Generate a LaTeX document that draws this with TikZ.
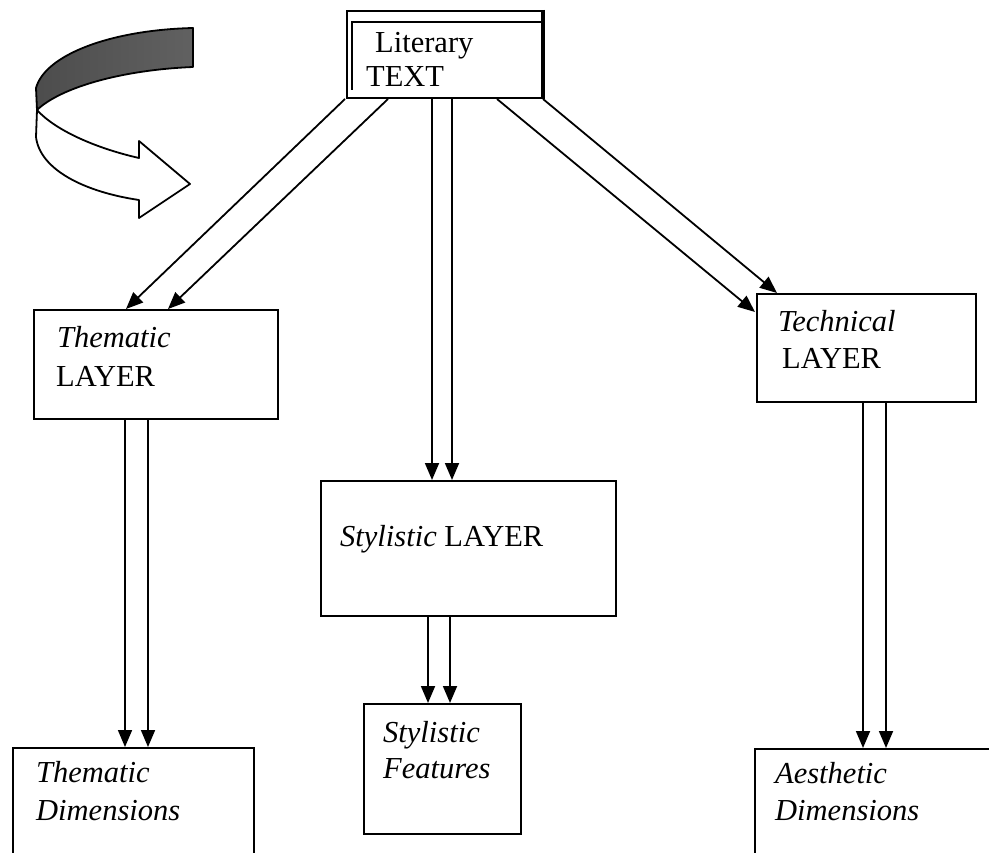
\documentclass[tikz,border=0pt]{standalone}
\usepackage{fontspec}
\setmainfont{Liberation Serif}
\usetikzlibrary{arrows.meta,calc}
\begin{document}
\begin{tikzpicture}[x=1pt,y=-1pt,
  box/.style={draw, line width=2pt, inner sep=0pt, anchor=north west},
  txt/.style={inner sep=0pt, anchor=base west, font=\fontsize{30.5}{36}\selectfont},
  arr/.style={line width=1.8pt, -{Triangle[length=17pt,width=14pt]}},
  rib/.style={line width=1.8pt, line join=round}
  ]
\useasboundingbox (0,0) rectangle (989,853);
\clip (0,0) rectangle (989,853);

% boxes
\node[box, minimum width=195pt, minimum height=87pt] (lit) at (346,10) {};
\node[box, minimum width=244pt, minimum height=109pt] (thl) at (33,309) {};
\node[box, minimum width=219pt, minimum height=108pt] (tel) at (756,293) {};
\node[box, minimum width=295pt, minimum height=135pt] (stl) at (320,480) {};
\node[box, minimum width=157pt, minimum height=130pt] (stf) at (363,703) {};
\node[box, minimum width=241pt, minimum height=200pt] (thd) at (12,747) {};
\node[box, minimum width=300pt, minimum height=200pt] (aed) at (754,748) {};

% Literary box inner frame and heavy right edge
\draw[line width=1.6pt] ($(lit.south west)+(6,-9)$) |- ($(lit.north east)+(0,12)$);
\draw[line width=3.2pt] (lit.north east) -- (lit.south east);

% texts
\node[txt] (t1) at (375,53) {Literary};
\node[txt] (t2) at (366,87) {TEXT};
\node[txt] (t3) at (57,348) {\textit{Thematic}};
\node[txt] (t4) at (56,386) {LAYER};
\node[txt] (t5) at (778,332) {\textit{Technical}};
\node[txt] (t6) at (782,368) {LAYER};
\node[txt] (t7) at (340,546) {\textit{Stylistic} LAYER};
\node[txt] (t8) at (383,742) {\textit{Stylistic}};
\node[txt] (t9) at (383,778) {\textit{Features}};
\node[txt] (t10) at (36,782) {\textit{Thematic}};
\node[txt] (t11) at (36,820) {\textit{Dimensions}};
\node[txt] (t12) at (775,783) {\textit{Aesthetic}};
\node[txt] (t13) at (775,820) {\textit{Dimensions}};

% arrows
\draw[arr] ($(lit.south west)+(-1,0)$) -- ($(thl.north west)+(93,0)$);
\draw[arr] ($(lit.south west)+(42,0)$) -- ($(thl.north west)+(135,0)$);
\draw[arr] ($(lit.south west)+(86,0)$) -- ($(stl.north west)+(112,0)$);
\draw[arr] ($(lit.south west)+(106,0)$) -- ($(stl.north west)+(132,0)$);
\draw[arr] ($(lit.south west)+(151,0)$) -- ($(tel.north west)+(-1,19)$);
\draw[arr] (lit.south east) -- ($(tel.north west)+(21,0)$);

\draw[arr] ($(thl.south west)+(92,0)$) -- ($(thd.north west)+(113,0)$);
\draw[arr] ($(thl.south west)+(115,0)$) -- ($(thd.north west)+(136,0)$);
\draw[arr] ($(stl.south west)+(108,0)$) -- ($(stf.north west)+(65,0)$);
\draw[arr] ($(stl.south west)+(130,0)$) -- ($(stf.north west)+(87,0)$);
\draw[arr] ($(tel.south west)+(107,0)$) -- ($(aed.north west)+(109,0)$);
\draw[arr] ($(tel.south west)+(130,0)$) -- ($(aed.north west)+(132,0)$);

% curved ribbon arrow
\shade[left color=black!70, middle color=black!50, right color=black!62]
  (193,28) .. controls (110,30) and (45,55) .. (36,88) -- (37,110)
  .. controls (60,88) and (120,70) .. (193,67) -- cycle;
\draw[rib] (193,28) .. controls (110,30) and (45,55) .. (36,88) -- (37,110)
  .. controls (60,88) and (120,70) .. (193,67) -- cycle;
\filldraw[rib, fill=white] (37,110) .. controls (55,130) and (95,148) .. (139,158)
  -- (139,141) -- (190,184) -- (139,218) -- (139,200)
  .. controls (85,192) and (40,170) .. (36,137) -- cycle;
\end{tikzpicture}
\end{document}
